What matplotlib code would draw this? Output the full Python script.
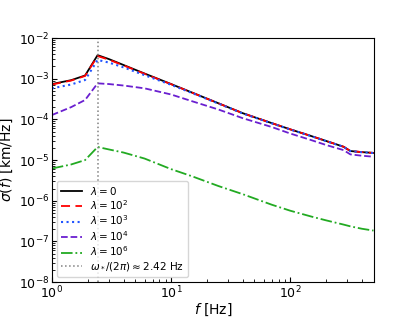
import numpy as np
import matplotlib
matplotlib.use("Agg")
import matplotlib.pyplot as plt

freq = [1, 1.45, 1.9, 2.42, 3, 4, 6, 10, 15, 25, 40, 70, 100, 150, 200, 280, 320, 400, 500]
sig_l0 = [7.4e-4, 9.2e-4, 1.2e-3, 3.8e-3, 3.05e-3, 2.17e-3, 1.34e-3, 7.4e-4, 4.57e-4, 2.49e-4,
          1.42e-4, 8.1e-5, 5.7e-5, 3.9e-5, 2.95e-5, 2.13e-5, 1.67e-5, 1.57e-5, 1.5e-5]
sig_l2 = [7.2e-4, 9.0e-4, 1.17e-3, 3.6e-3, 2.95e-3, 2.12e-3, 1.32e-3, 7.35e-4, 4.55e-4, 2.48e-4,
          1.42e-4, 8.1e-5, 5.7e-5, 3.9e-5, 2.95e-5, 2.13e-5, 1.67e-5, 1.57e-5, 1.5e-5]
sig_l3 = [5.8e-4, 7.2e-4, 9.3e-4, 2.9e-3, 2.5e-3, 1.9e-3, 1.22e-3, 7.1e-4, 4.45e-4, 2.45e-4,
          1.4e-4, 8.0e-5, 5.65e-5, 3.88e-5, 2.93e-5, 2.12e-5, 1.66e-5, 1.56e-5, 1.49e-5]
sig_l4 = [1.28e-4, 2.0e-4, 3.0e-4, 7.7e-4, 7.4e-4, 6.8e-4, 5.8e-4, 4.1e-4, 2.8e-4, 1.75e-4,
          1.07e-4, 6.5e-5, 4.5e-5, 3.1e-5, 2.35e-5, 1.76e-5, 1.38e-5, 1.28e-5, 1.21e-5]
sig_l6 = [6.2e-6, 7.8e-6, 1.0e-5, 2.1e-5, 1.83e-5, 1.53e-5, 1.09e-5, 6.0e-6, 4.0e-6, 2.3e-6,
          1.45e-6, 8.0e-7, 5.7e-7, 4.1e-7, 3.3e-7, 2.6e-7, 2.35e-7, 2.05e-7, 1.85e-7]
f_star = 2.42

fig = plt.figure(figsize=(4.15, 3.17), dpi=100)
ax = fig.add_subplot(111)
ax.loglog(freq, sig_l0, color='k', ls='-', lw=1.3, label=r'$\lambda = 0$')
ax.loglog(freq, sig_l2, color='r', ls=(0, (5, 3)), lw=1.3, label=r'$\lambda = 10^2$')
ax.loglog(freq, sig_l3, color='#2255ff', ls=':', lw=1.5, label=r'$\lambda = 10^3$')
ax.loglog(freq, sig_l4, color='#6a1fd0', ls='--', lw=1.3, label=r'$\lambda = 10^4$')
ax.loglog(freq, sig_l6, color='#22aa22', ls='-.', lw=1.3, label=r'$\lambda = 10^6$')
ax.axvline(f_star, color='gray', ls=':', lw=1.1, label=r'$\omega_*/(2\pi) \approx 2.42$ Hz')
ax.set_xlim(1, 500)
ax.set_ylim(1e-8, 1e-2)
ax.tick_params(which='both', direction='in', labelsize=9, pad=2)
ax.set_xlabel(r'$f$ [Hz]', labelpad=0)
ax.set_ylabel(r'$\tilde{\sigma}(f)$ [km/Hz]', labelpad=3)
ax.legend(loc='lower left', fontsize=7.5, labelspacing=0.15)
fig.savefig('out.png', dpi=100)
